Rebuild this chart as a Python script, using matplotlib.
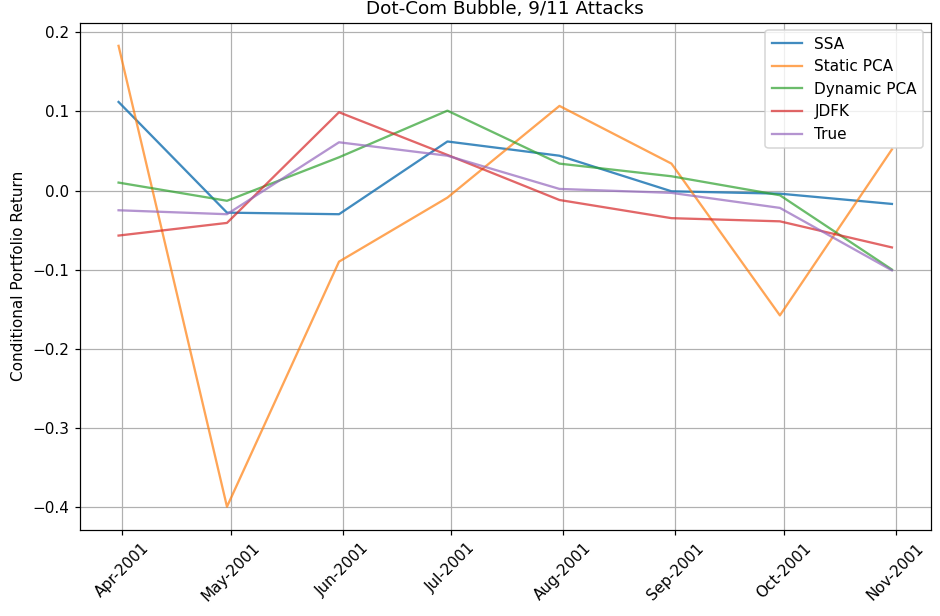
import pandas as pd
import matplotlib
matplotlib.use('Agg')
import matplotlib.pyplot as plt
import matplotlib.dates as mdates

dates = pd.to_datetime(['2001-03-31', '2001-04-30', '2001-05-31', '2001-06-30',
                        '2001-07-31', '2001-08-31', '2001-09-30', '2001-10-31'])
ssa = [0.112, -0.028, -0.030, 0.062, 0.044, -0.001, -0.004, -0.017]
static_pca = [0.183, -0.400, -0.090, -0.009, 0.107, 0.034, -0.158, 0.052]
dynamic_pca = [0.010, -0.013, 0.042, 0.101, 0.034, 0.018, -0.006, -0.100]
jdfk = [-0.057, -0.041, 0.099, 0.045, -0.012, -0.035, -0.039, -0.072]
true_ret = [-0.025, -0.030, 0.061, 0.044, 0.002, -0.003, -0.022, -0.101]

# rendered at 110 dpi so text and lines come out slightly larger
fig = plt.figure(figsize=(940 / 110, 616 / 110), dpi=110)
ax = fig.add_axes([0.085, 0.14, 0.905, 0.823])
ax.plot(dates, ssa, label='SSA', alpha=0.85)
ax.plot(dates, static_pca, label='Static PCA', alpha=0.7)
ax.plot(dates, dynamic_pca, label='Dynamic PCA', alpha=0.7)
ax.plot(dates, jdfk, label='JDFK', alpha=0.7)
ax.plot(dates, true_ret, label='True', alpha=0.7)
ax.xaxis.set_major_locator(mdates.MonthLocator())
ax.xaxis.set_major_formatter(mdates.DateFormatter('%b-%Y'))
plt.setp(ax.get_xticklabels(), rotation=45)
ax.set_title('Dot-Com Bubble, 9/11 Attacks')
ax.set_ylabel('Conditional Portfolio Return')
ax.legend(loc='upper right')
ax.grid(True)
fig.savefig('out.png', dpi=110)
